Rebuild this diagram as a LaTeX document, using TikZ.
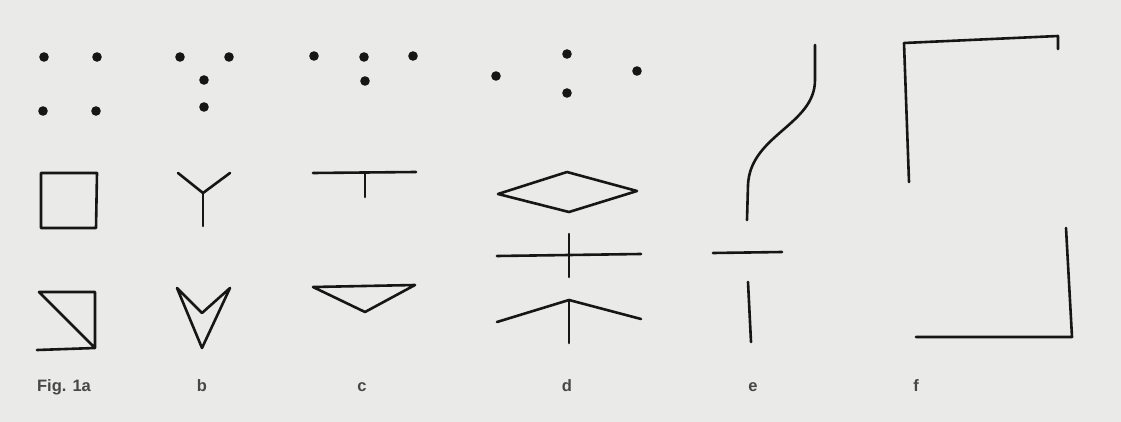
\documentclass[tikz,border=0pt]{standalone}
\usepackage{fontspec}
\setmainfont{Liberation Sans}
\definecolor{paper}{RGB}{234,234,232}
\definecolor{ink}{RGB}{22,22,22}
\tikzset{
  stroke/.style={draw=ink,line width=2.6pt,line cap=round,line join=round},
  lab/.style={font=\fontsize{16.5}{19}\selectfont\bfseries,text=black!72,anchor=base}
}
\begin{document}
\begin{tikzpicture}[x=1pt,y=-1pt]
    \fill[paper] (0,0) rectangle (1121,422);
    % dot patterns a--d
    \foreach \x/\y in {44/57,97/57,43/111,96/111,180/57,229/57,204/80,204/107,314/56,364/57,413/56,365/81,496/76,567/54,637/71,567/93}{
      \fill[ink] (\x,\y) circle (4.8pt);
    }
    % a
    \draw[stroke] (41,173) -- (97,173) -- (96,228) -- (41,228) -- cycle;
    \draw[stroke] (37,350) -- (95,348) -- (95,292) -- (39,292) -- (95,348);
    % b
    \draw[stroke] (178,173) -- (203,193) -- (230,173);
    \draw[stroke] (203,193) -- (203,226);
    \draw[stroke] (177,288) -- (202,348) -- (230,288) -- (202,313) -- cycle;
    % c
    \draw[stroke] (313,173) -- (416,172);
    \draw[stroke] (365,173) -- (365,197);
    \draw[stroke] (313,287) -- (415,285) -- (365,312) -- cycle;
    % d
    \draw[stroke] (498,194) -- (567,172) -- (637,191) -- (569,212) -- cycle;
    \draw[stroke] (497,256) -- (641,254);
    \draw[stroke] (569,234) -- (569,277);
    \draw[stroke] (497,322) -- (569,300) -- (641,319);
    \draw[stroke] (569,300) -- (569,343);
    % e
    \draw[stroke] (815,45) -- (815,80) .. controls (815,125) and (750,135) .. (748,185) -- (747,220);
    \draw[stroke] (713,253) -- (782,252);
    \draw[stroke] (748,282) -- (751,342);
    % f
    \draw[stroke] (909,182) -- (904,43) -- (1058,36) -- (1058,49);
    \draw[stroke] (1066,228) -- (1072,337) -- (916,337);
    % captions
    \node[lab] (figa) at (64,391) {Fig. 1a};
    \foreach \x/\lab in {202/b,362/c,567/d,753/e,916/f}{
      \node[lab] (cap\lab) at (\x,391) {\lab};
    }
\end{tikzpicture}
\end{document}
